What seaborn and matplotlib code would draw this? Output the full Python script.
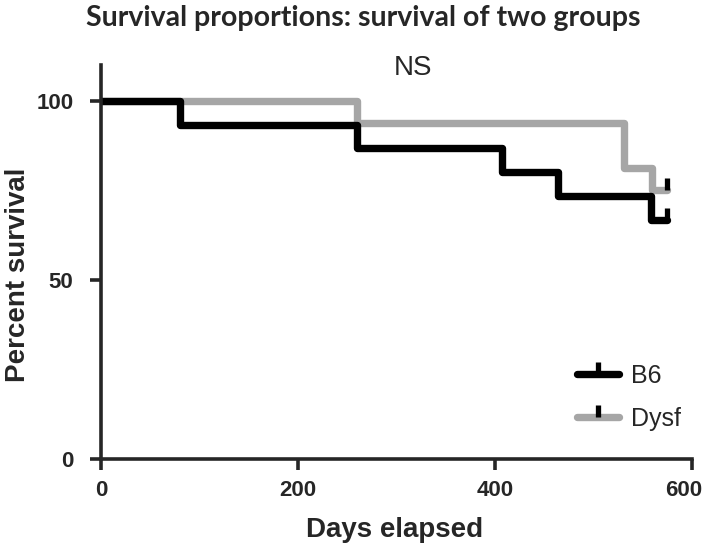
import matplotlib
matplotlib.use("Agg")
import matplotlib.pyplot as plt
import matplotlib.transforms as mtransforms
import seaborn as sns
import pandas as pd
from matplotlib.path import Path
from matplotlib.lines import Line2D

# Kaplan-Meier steps
b6_days = [0, 80, 260, 407, 464, 558, 575]
b6_surv = [100, 93.3, 86.7, 80.0, 73.3, 66.7, 66.7]
dysf_days = [0, 260, 531, 559, 575]
dysf_surv = [100, 93.75, 81.25, 75.0, 75.0]

groups = ["B6", "Dysf"]
colors = {"B6": "black", "Dysf": "#a6a6a6"}
x_ticks = [0, 200, 400, 600]
y_ticks = [0, 50, 100]

df = pd.concat([
    pd.DataFrame({"days": b6_days, "surv": b6_surv, "group": "B6"}),
    pd.DataFrame({"days": dysf_days, "surv": dysf_surv, "group": "Dysf"}),
])

sns.set_style("ticks")
plt.rcParams["font.family"] = ["Liberation Sans", "DejaVu Sans"]

fig = plt.figure(figsize=(7.09, 5.5), dpi=100)
ax = fig.add_axes([0.1425, 0.1655, 0.8336, 0.7164])

sns.lineplot(data=df, x="days", y="surv", hue="group", hue_order=["Dysf", "B6"],
             palette=colors, drawstyle="steps-post", linewidth=5.3,
             estimator=None, sort=False, legend=False, ax=ax)

# censor ticks (line end, going upward)
tick = Path([(0, 0), (0, 1)])
ax.plot([b6_days[-1]], [b6_surv[-1]], linestyle="none", marker=tick, ms=17,
        mew=3.8, mec="black")
ax.plot([dysf_days[-1]], [dysf_surv[-1]], linestyle="none", marker=tick, ms=17,
        mew=3.8, mec="black")

ax.set_xlim(0, 600)
ax.set_ylim(0, 110)
ax.set_xticks(x_ticks)
ax.set_yticks(y_ticks)
for s in ["top", "right"]:
    ax.spines[s].set_visible(False)
for s in ["left", "bottom"]:
    ax.spines[s].set_linewidth(2.6)
ax.tick_params(axis="both", length=8, width=2.6, labelsize=16)
ax.tick_params(axis="x", pad=7)
ax.tick_params(axis="y", pad=12)
for lab in ax.get_xticklabels() + ax.get_yticklabels():
    lab.set_fontweight("bold")
# nudge the last x label so it stays inside the figure
last = ax.get_xticklabels()[-1]
last.set_transform(last.get_transform() +
                   mtransforms.ScaledTranslation(-6 / 72, 0, fig.dpi_scale_trans))

ax.set_xlabel("Days elapsed", fontsize=20, fontweight="bold", va="center")
ax.set_ylabel("Percent survival", fontsize=20, fontweight="bold", va="center")
ax.xaxis.set_label_coords(0.497, -0.18)
ax.yaxis.set_label_coords(-0.14, 0.467)

ax.text(0.528, 0.975, "NS", transform=ax.transAxes, ha="center",
        va="baseline", fontsize=20)
fig.text(0.512, 0.953, "Survival proportions: survival of two groups",
         ha="center", va="baseline", fontsize=20.5, fontweight="bold",
         family=["Lato", "DejaVu Sans"])

handles = [Line2D([], [], color=colors[g], lw=5.3, marker=tick, ms=17, mew=3.8,
                  mec="black") for g in groups]
ax.legend(handles, groups, loc="center left", bbox_to_anchor=(0.806, 0.156),
          frameon=False, fontsize=18, handlelength=1.68, handletextpad=0.48,
          labelspacing=0.75, borderpad=0, borderaxespad=0)

fig.savefig("out.png", dpi=100)
